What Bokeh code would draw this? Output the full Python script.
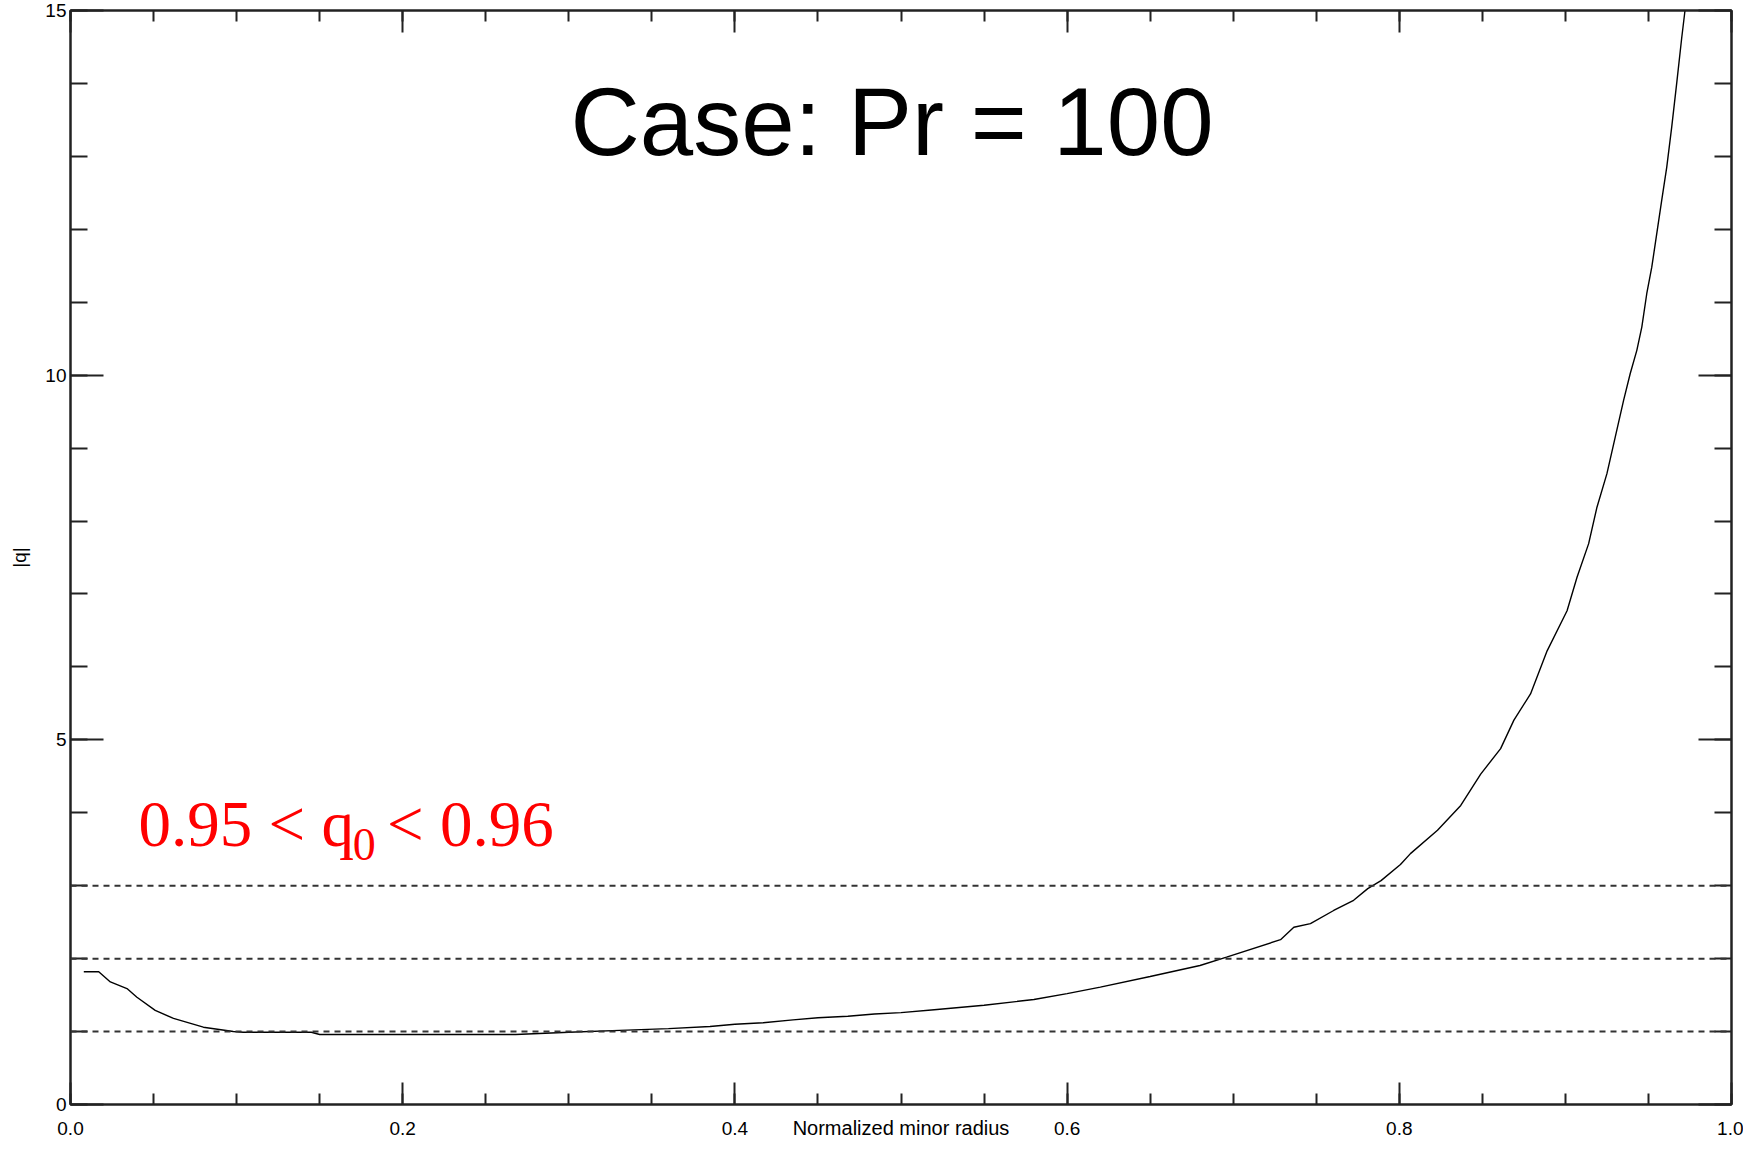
from bokeh.plotting import figure
from bokeh.models import (Range1d, LinearAxis, FixedTicker, Span, Label,
                          CustomJSTickFormatter)
from bokeh.embed import file_html
from bokeh.resources import INLINE

# ---- data ----
radius = [0.008, 0.017, 0.024, 0.034, 0.040, 0.051, 0.062, 0.080, 0.098, 0.104,
          0.145, 0.150, 0.268, 0.300, 0.335, 0.360, 0.385, 0.400, 0.417, 0.435,
          0.450, 0.468, 0.484, 0.500, 0.520, 0.550, 0.580, 0.600, 0.620, 0.650,
          0.680, 0.696, 0.7285, 0.7365, 0.7465, 0.7605, 0.7725, 0.781, 0.789, 0.8007,
          0.8067, 0.823, 0.837, 0.849, 0.861, 0.869, 0.879, 0.889, 0.901, 0.907,
          0.914, 0.919, 0.925, 0.930, 0.935, 0.939, 0.943, 0.946, 0.949, 0.952,
          0.955, 0.958, 0.961, 0.964, 0.967, 0.970, 0.972, 0.975]
q_abs = [1.82, 1.82, 1.68, 1.59, 1.47, 1.29, 1.18, 1.06, 1.00, 0.99,
         0.99, 0.96, 0.96, 0.99, 1.02, 1.04, 1.07, 1.10, 1.12, 1.16,
         1.19, 1.21, 1.24, 1.26, 1.30, 1.36, 1.44, 1.52, 1.61, 1.755,
         1.906, 2.02, 2.26, 2.43, 2.48, 2.66, 2.80, 2.96, 3.07, 3.29,
         3.44, 3.76, 4.10, 4.53, 4.88, 5.27, 5.63, 6.22, 6.77, 7.23,
         7.69, 8.19, 8.65, 9.15, 9.65, 10.02, 10.34, 10.66, 11.12, 11.48,
         11.94, 12.40, 12.85, 13.40, 14.0, 14.62, 15.0, 15.5]
rational_q = [1, 2, 3]
x_major = [0.0, 0.2, 0.4, 0.6, 0.8, 1.0]
x_minor = [i * 0.05 for i in range(21)]
y_major = [0, 5, 10, 15]
y_minor = list(range(16))
x_tick_labels = {0.0: "0.0", 0.2: "0.2", 0.4: "0.4", 0.6: "0.6", 0.8: "0.8", 1.0: "1.0"}
title_text = "Case: Pr = 100"
x_label = "Normalized minor radius"
y_label = "|q|"

AX = "#222222"
TICK_FONT = "Liberation Sans"

p = figure(width=1743, height=1145, output_backend="svg", toolbar_location=None,
           x_range=Range1d(0, 1), y_range=Range1d(0, 15),
           min_border_left=70, min_border_right=12, min_border_top=10, min_border_bottom=41,
           background_fill_color="white", border_fill_color="white")
p.grid.visible = False
p.outline_line_color = AX
p.outline_line_width = 2


def style_axis(ax, ticks, minors, major_len, minor_len, labels=True):
    ax.ticker = FixedTicker(ticks=ticks, minor_ticks=minors)
    ax.axis_line_color = AX
    ax.axis_line_width = 2
    ax.major_tick_line_color = AX
    ax.major_tick_line_width = 2
    ax.minor_tick_line_color = AX
    ax.minor_tick_line_width = 2
    ax.major_tick_in = major_len
    ax.major_tick_out = 0
    ax.minor_tick_in = minor_len
    ax.minor_tick_out = 0
    if labels:
        ax.major_label_text_font = TICK_FONT
        ax.major_label_text_font_size = "19px"
        ax.major_label_text_color = "black"
    else:
        ax.formatter = CustomJSTickFormatter(code="return ''")
        ax.major_label_text_font_size = "1px"
        ax.major_label_standoff = 0


xb = p.xaxis[0]
style_axis(xb, x_major, x_minor, 22, 11)
xb.major_label_overrides = x_tick_labels
xb.major_label_standoff = 17
xb.axis_label = x_label
xb.axis_label_text_font = TICK_FONT
xb.axis_label_text_font_style = "normal"
xb.axis_label_text_font_size = "20px"
xb.axis_label_text_color = "black"
xb.axis_label_standoff = -21

yl = p.yaxis[0]
style_axis(yl, y_major, y_minor, 33, 17)
yl.major_label_standoff = 4
yl.axis_label = y_label
yl.axis_label_text_font = TICK_FONT
yl.axis_label_text_font_style = "normal"
yl.axis_label_text_font_size = "19px"
yl.axis_label_text_color = "black"
yl.axis_label_standoff = 12

xt = LinearAxis()
style_axis(xt, x_major, x_minor, 22, 11, labels=False)
p.add_layout(xt, "above")
yr = LinearAxis()
style_axis(yr, y_major, y_minor, 33, 17, labels=False)
p.add_layout(yr, "right")

# rational surfaces
for q in rational_q:
    p.add_layout(Span(location=q, dimension="width", line_color="#333333",
                      line_width=2, line_dash="6 5"))

# q profile
p.line(radius, q_abs, line_color="black", line_width=1.4)

# texts
p.add_layout(Label(x=0.4946, y=13.48, text=title_text, text_font="Liberation Sans",
                   text_font_size="96px", text_color="black", text_align="center",
                   text_baseline="alphabetic"))
p.add_layout(Label(x=0.041, y=3.84, text="0.95 < q", text_font="Liberation Serif",
                   text_font_size="65px", text_color="#ff0000",
                   text_baseline="alphabetic"))
p.add_layout(Label(x=0.170, y=3.565, text="0", text_font="Liberation Serif",
                   text_font_size="46px", text_color="#ff0000",
                   text_baseline="alphabetic"))
p.add_layout(Label(x=0.1906, y=3.84, text="< 0.96", text_font="Liberation Serif",
                   text_font_size="65px", text_color="#ff0000",
                   text_baseline="alphabetic"))

open("out.html", "w").write(file_html(p, INLINE))
